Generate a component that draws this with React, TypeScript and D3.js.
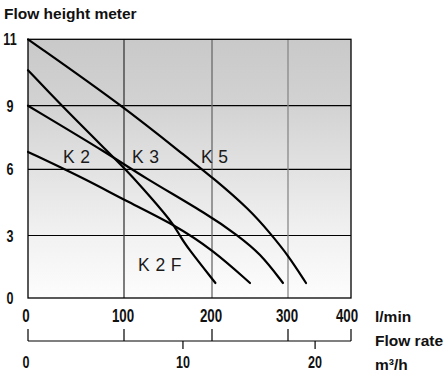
import React from "react";
import * as d3 from "d3";

// ---- data ----
const yTicks = [0, 3, 6, 9, 11];
const xTicksLmin = [0, 100, 200, 300, 400];
const xTicksM3h = [0, 10, 20];
// l/min positions of the m³/h ticks as read on the chart
const m3hAsLmin = [0, 167, 343];

type Pt = [number, number];
const seriesK5: Pt[] = [
  [0, 11], [100, 8.95], [175, 6.44], [200, 5.65],
  [250, 4.16], [276.3, 3.11], [300, 2.06], [328.6, 0.72],
];
const seriesK3: Pt[] = [
  [0, 9], [87.5, 6.63], [118.2, 5.74], [200, 3.84],
  [232.9, 3.02], [263.2, 2.16], [293.4, 0.72],
];
const seriesK2F: Pt[] = [
  [0, 10.07], [33.3, 9.05], [87.5, 6.63], [100, 6.06], [118.2, 5.29],
  [155.7, 3.57], [163.6, 2.98], [171.6, 2.45], [204.5, 0.72],
];
const seriesK2: Pt[] = [
  [0, 6.82], [61.5, 5.52], [100, 4.61], [157.9, 3.48], [201.3, 2.3], [250, 0.72],
];
const allSeries = [seriesK5, seriesK3, seriesK2F, seriesK2];

const curveLabels = ["K 2", "K 3", "K 5", "K 2 F"];
const labelAt: Pt[] = [
  [36.5, 6.3], [109, 6.3], [187.5, 6.3], [116, 1.3],
];

const title = "Flow height meter";
const unitLabels = ["l/min", "Flow rate", "m³/h"];

export default function App() {
  const x = d3.scaleLinear().domain(xTicksLmin).range([28, 124, 212, 288, 351]);
  const y = d3.scaleLinear().domain(yTicks).range([298, 235.5, 169.3, 105.7, 39.3]);

  const line = d3
    .line<Pt>()
    .x((d) => x(d[0]))
    .y((d) => y(d[1]))
    .curve(d3.curveBasis);

  const left = x(0);
  const right = x(400);
  const top = y(11);
  const bottom = y(0);
  const vColors = ["#000", "#3a3a3a", "#6a6a6a", "#888", "#000"];
  const font = "'Liberation Sans', Arial, sans-serif";
  const squeeze = 0.74;

  const Num = ({ px, py, size, anchor, children }: { px: number; py: number; size: number; anchor: string; children: React.ReactNode }) => (
    <text
      transform={`translate(${px},${py}) scale(${squeeze},1)`}
      textAnchor={anchor}
      fontFamily={font}
      fontWeight="bold"
      fontSize={size}
      fill="#111"
    >
      {children}
    </text>
  );

  return (
    <svg width={448} height={377} style={{ position: "absolute", left: 0, top: 0, background: "#fff" }}>
      <defs>
        <linearGradient id="bg" x1="0" y1="0" x2="0" y2="1">
          <stop offset="0" stopColor="#c9c9c9" />
          <stop offset="0.25" stopColor="#d2d2d2" />
          <stop offset="0.5" stopColor="#e2e2e2" />
          <stop offset="0.75" stopColor="#f1f1f1" />
          <stop offset="1" stopColor="#fdfdfd" />
        </linearGradient>
      </defs>
      <text x={4} y={19} fontFamily={font} fontWeight="bold" fontSize={15.5} fill="#111">
        {title}
      </text>
      <rect x={left} y={top} width={right - left} height={bottom - top} fill="url(#bg)" />
      {/* horizontal grid */}
      {yTicks.slice(1, -1).map((t) => (
        <line key={"h" + t} x1={left} x2={right} y1={y(t)} y2={y(t)} stroke="#000" strokeWidth={1.2} />
      ))}
      {/* vertical grid */}
      {xTicksLmin.slice(1, -1).map((t, i) => (
        <line key={"v" + t} x1={x(t)} x2={x(t)} y1={top} y2={bottom} stroke={vColors[i + 1]} strokeWidth={1.3} />
      ))}
      <rect x={left} y={top} width={right - left} height={bottom - top} fill="none" stroke="#000" strokeWidth={1.3} />
      {/* curves */}
      {allSeries.map((s, i) => (
        <path key={"s" + i} d={line(s) || ""} fill="none" stroke="#000" strokeWidth={2.2} strokeLinecap="round" />
      ))}
      {/* curve labels */}
      {curveLabels.map((l, i) => (
        <text key={l} x={x(labelAt[i][0])} y={y(labelAt[i][1])} fontFamily={font} fontSize={17.5} letterSpacing={0.4} fill="#1a1a1a">
          {l}
        </text>
      ))}
      {/* y tick labels */}
      {yTicks.map((t) => (
        <Num key={"yt" + t} px={10} py={y(t) + 6} size={17} anchor="middle">
          {t}
        </Num>
      ))}
      {/* l/min tick labels */}
      {xTicksLmin.map((t, i) => (
        <Num key={"xt" + t} px={x(t) - (i === 0 ? 2 : i === 4 ? 4 : 1)} py={322} size={18} anchor="middle">
          {t}
        </Num>
      ))}
      {/* second axis */}
      <line x1={left} x2={right} y1={341} y2={341} stroke="#000" strokeWidth={1.2} />
      {xTicksLmin.map((t) => (
        <line key={"xk" + t} x1={x(t)} x2={x(t)} y1={329} y2={341} stroke="#000" strokeWidth={1.2} />
      ))}
      {xTicksM3h.slice(1).map((t, i) => (
        <line key={"mk" + t} x1={x(m3hAsLmin[i + 1])} x2={x(m3hAsLmin[i + 1])} y1={341} y2={349} stroke="#000" strokeWidth={1.2} />
      ))}
      {xTicksM3h.map((t, i) => (
        <Num key={"mt" + t} px={x(m3hAsLmin[i]) - (i === 0 ? 2 : 0)} py={368} size={17} anchor="middle">
          {t}
        </Num>
      ))}
      {unitLabels.map((u, i) => (
        <text key={u} x={375} y={322 + i * 24} fontFamily={font} fontWeight="bold" fontSize={15.5} fill="#111">
          {u}
        </text>
      ))}
    </svg>
  );
}
